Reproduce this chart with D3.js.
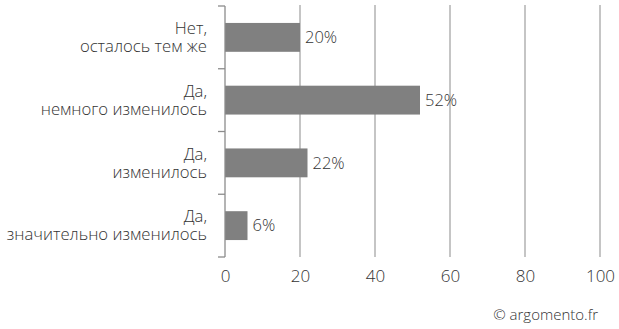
<!DOCTYPE html>
<html>
<head>
<meta charset="utf-8">
<script src="https://cdn.jsdelivr.net/npm/d3@7"></script>
<style>
  body { margin: 0; background: #fff; }
  svg { display: block; font-family: "Open Sans", sans-serif; font-weight: 300; }
</style>
</head>
<body>
<svg id="chart" width="619" height="329"></svg>
<script>
const categories = [
  ["Нет,", "осталось тем же"],
  ["Да,", "немного изменилось"],
  ["Да,", "изменилось"],
  ["Да,", "значительно изменилось"]
];
const values = [20, 52, 22, 6];
const xTicks = [0, 20, 40, 60, 80, 100];
const credit = "© argomento.fr";

const svg = d3.select("#chart");
const margin = { top: 6, bottom: 72, left: 225, right: 19 };
const width = 619, height = 329;
const textColor = "#333";

const x = d3.scaleLinear().domain([0, 100]).range([margin.left, width - margin.right]);
const y = d3.scaleBand()
  .domain(d3.range(categories.length))
  .range([margin.top, height - margin.bottom])
  .paddingInner(0.54)
  .paddingOuter(0.27);

// gridlines
svg.append("g")
  .selectAll("line")
  .data(xTicks.filter(d => d > 0))
  .join("line")
  .attr("x1", d => x(d)).attr("x2", d => x(d))
  .attr("y1", margin.top - 1).attr("y2", height - margin.bottom)
  .attr("stroke", "#a6a6a6").attr("stroke-width", 1.3);

// bars
svg.append("g")
  .attr("fill", "#808080")
  .selectAll("rect")
  .data(values)
  .join("rect")
  .attr("x", x(0))
  .attr("y", (d, i) => y(i))
  .attr("width", d => x(d) - x(0))
  .attr("height", y.bandwidth());

// value labels
svg.append("g")
  .selectAll("text")
  .data(values)
  .join("text")
  .attr("x", d => x(d) + 5)
  .attr("y", (d, i) => y(i) + y.bandwidth() / 2)
  .attr("dy", "0.35em")
  .attr("fill", textColor)
  .style("font-size", "16.5px")
  .text(d => d + "%");

// y axis: line + ticks at band boundaries
const yAxis = svg.append("g").attr("stroke", "#8c8c8c").attr("stroke-width", 1.3);
const boundaries = d3.range(categories.length + 1).map(i => margin.top + i * (height - margin.top - margin.bottom) / categories.length);
yAxis.append("line")
  .attr("x1", x(0)).attr("x2", x(0))
  .attr("y1", boundaries[0]).attr("y2", boundaries[boundaries.length - 1]);
yAxis.selectAll(".tick")
  .data(boundaries)
  .join("line")
  .attr("x1", x(0) - 7).attr("x2", x(0))
  .attr("y1", d => d).attr("y2", d => d);

// category labels, one text per line
const lines = categories.flatMap((c, i) => c.map((t, j) => ({ t, i, j })));
svg.append("g")
  .selectAll("text")
  .data(lines)
  .join("text")
  .attr("text-anchor", "end")
  .attr("fill", textColor)
  .style("font-size", "16.7px")
  .attr("x", 207)
  .attr("y", d => y(d.i) + y.bandwidth() / 2 + (d.j - 0.5) * 18)
  .attr("dy", "0.35em")
  .text(d => d.t);

// x axis tick labels
svg.append("g")
  .attr("transform", `translate(0,${height - margin.bottom})`)
  .call(d3.axisBottom(x).tickValues(xTicks).tickSize(0).tickPadding(13))
  .call(g => g.select(".domain").remove())
  .call(g => g.selectAll("text")
    .attr("fill", textColor)
    .style("font-family", "'Open Sans', sans-serif")
    .style("font-weight", 300)
    .style("font-size", "17px"));

svg.append("text")
  .attr("x", 598).attr("y", 320)
  .attr("text-anchor", "end")
  .attr("fill", textColor)
  .style("font-size", "15px")
  .text(credit);
</script>
</body>
</html>
